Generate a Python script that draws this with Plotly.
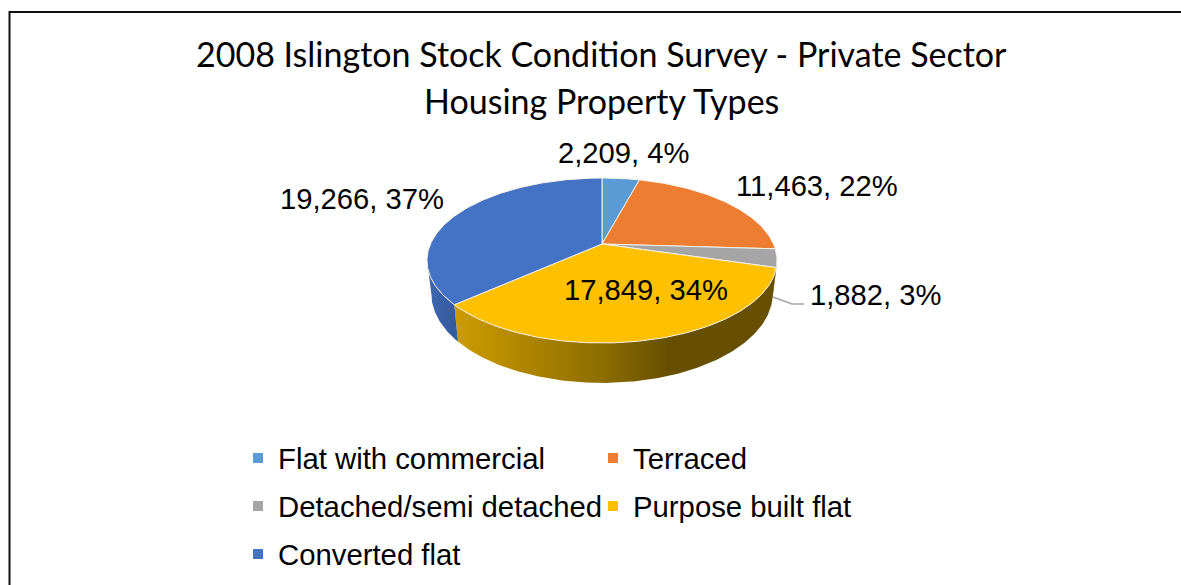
import numpy as np
import plotly.graph_objects as go

# ---- data ----
categories = ["Flat with commercial", "Terraced", "Detached/semi detached",
              "Purpose built flat", "Converted flat"]
values = [2209, 11463, 1882, 17849, 19266]
percent_labels = [4, 22, 3, 34, 37]
title_lines = ["2008 Islington Stock Condition Survey - Private Sector", "Housing Property Types"]
colors = ["#5B9BD5", "#ED7D31", "#A5A5A5", "#FFC000", "#4472C4"]

# ---- perspective pie geometry (pixels of the figure) ----
W, H = 1181, 585
CX, CY = 602, 244
KX, KY, K = 171.5, 79.2, 0.2
BOTTOM_SX, BOTTOM_SY, BOTTOM_DY = 0.975, 1.08, 32
FONT = "Liberation Sans, Arial, sans-serif"


def project(deg):
    t = np.radians(deg)
    X, Y = np.sin(t), np.cos(t)
    w = 1 + K * Y
    return CX + KX * X / w, CY - KY * Y / w


def arc(a, b, n=None):
    n = n or max(2, int(abs(b - a) * 1.5) + 2)
    return project(np.linspace(a, b, n))


total = sum(values)
edges = np.concatenate([[0], np.cumsum(values) / total * 360])
SIL_R, SIL_L = 101.54, 258.46   # silhouette angles of the projected rim

fig = go.Figure()


def add_side(a, b, gradient):
    x, y = arc(a, b)
    bx = CX + (x - CX) * BOTTOM_SX
    by = CY + (y - CY) * BOTTOM_SY + BOTTOM_DY
    px = np.concatenate([x, bx[::-1], x[:1]])
    py = np.concatenate([y, by[::-1], y[:1]])
    fig.add_trace(go.Scatter(x=px, y=py, mode="lines", line=dict(width=0),
                             fill="toself", hoverinfo="skip", showlegend=False,
                             fillgradient=dict(type="horizontal", colorscale=gradient)))


# sides (front rim only)
add_side(SIL_R, edges[3], [[0, "#6b5300"], [1, "#6b5300"]])
add_side(edges[3], edges[4], [[0, "#cc9c00"], [0.45, "#8f6e00"], [0.66, "#665000"], [1, "#665000"]])
add_side(edges[4], SIL_L, [[0, "#3e68b2"], [1, "#34599c"]])

# top faces
for name, col, a, b in zip(categories, colors, edges[:-1], edges[1:]):
    x, y = arc(a, b)
    fig.add_trace(go.Scatter(
        x=np.concatenate([[CX], x, [CX]]), y=np.concatenate([[CY], y, [CY]]),
        mode="lines", line=dict(color="#f4f1ea", width=1), fill="toself", fillcolor=col,
        name=name, hoverinfo="name", showlegend=False))

# legend keys
legend_rows = ["legend", "legend", "legend2", "legend2", "legend3"]
for name, col, lg in zip(categories, colors, legend_rows):
    fig.add_trace(go.Scatter(x=[None], y=[None], mode="markers", name=name, legend=lg,
                             marker=dict(symbol="square", size=10, color=col)))

# data labels
label_pos = [(623, 153), (817, 186), (875.5, 295), (646, 290), (362, 199)]
annotations = [dict(x=p[0], y=p[1], xref="x", yref="y", showarrow=False,
                    text=f"{v:,}, {pc}%", font=dict(family=FONT, size=29.2, color="#000000"))
               for v, pc, p in zip(values, percent_labels, label_pos)]
for i, line in enumerate(title_lines):
    annotations.append(dict(x=601.5, y=53.5 + 47 * i, xref="x", yref="y", showarrow=False, text=line,
                            font=dict(family="Lato, Carlito, sans-serif", size=34, color="#000000")))

legend_common = dict(orientation="h", xanchor="left", yanchor="middle", x=238 / W,
                     entrywidth=310, entrywidthmode="pixels", bgcolor="rgba(0,0,0,0)",
                     font=dict(family=FONT, size=29.3, color="#000000"), itemclick=False, itemdoubleclick=False)

fig.update_layout(
    width=W, height=H, margin=dict(l=0, r=0, t=0, b=0),
    paper_bgcolor="#ffffff", plot_bgcolor="#ffffff", showlegend=True,
    xaxis=dict(range=[0, W], visible=False, fixedrange=True),
    yaxis=dict(range=[H, 0], visible=False, fixedrange=True),
    legend=dict(y=1 - 458.5 / H, **legend_common),
    legend2=dict(y=1 - 506.5 / H, **legend_common),
    legend3=dict(y=1 - 554.5 / H, **legend_common),
    annotations=annotations,
    shapes=[
        dict(type="path", xref="x", yref="y", path="M 773 297 L 792 304 L 804 304",
             line=dict(color="#a6a6a6", width=1.5)),
        dict(type="path", xref="x", yref="y", path=f"M 9.5 {H} L 9.5 12 L {W} 12",
             line=dict(color="#111111", width=2)),
    ],
)

fig.write_html("out.html", config=dict(displayModeBar=False),
               post_script="document.body.style.margin='0';")
